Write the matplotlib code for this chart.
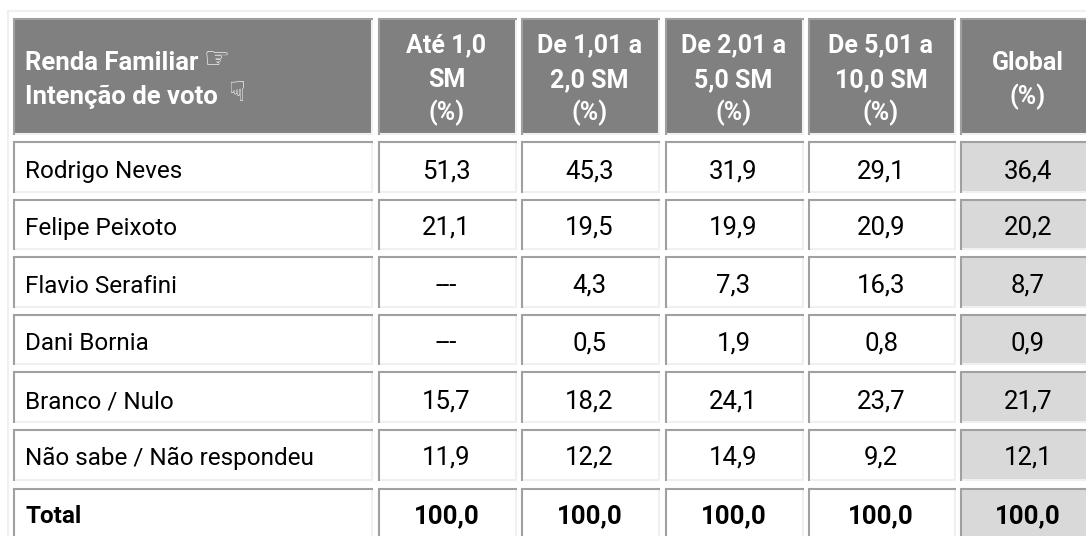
import matplotlib
matplotlib.use('Agg')
import matplotlib.pyplot as plt
from matplotlib.patches import Rectangle

plt.rcParams['font.family'] = ['Roboto', 'DejaVu Sans']

header_cols = [['Até 1,0', 'SM', '(%)'], ['De 1,01 a', '2,0 SM', '(%)'], ['De 2,01 a', '5,0 SM', '(%)'],
               ['De 5,01 a', '10,0 SM', '(%)'], ['Global', '(%)']]
header_first = ['Renda Familiar', 'Intenção de voto']
candidates = ['Rodrigo Neves', 'Felipe Peixoto', 'Flavio Serafini', 'Dani Bornia',
              'Branco / Nulo', 'Não sabe / Não respondeu', 'Total']
ate_1 = ['51,3', '21,1', '---', '---', '15,7', '11,9', '100,0']
de_1_2 = ['45,3', '19,5', '4,3', '0,5', '18,2', '12,2', '100,0']
de_2_5 = ['31,9', '19,9', '7,3', '1,9', '24,1', '14,9', '100,0']
de_5_10 = ['29,1', '20,9', '16,3', '0,8', '23,7', '9,2', '100,0']
global_ = ['36,4', '20,2', '8,7', '0,9', '21,7', '12,1', '100,0']
columns = [ate_1, de_1_2, de_2_5, de_5_10, global_]

col_left = [13, 378, 521, 665, 808, 960]
col_right = [371, 515, 658, 802, 954, 1092]
row_top = [18, 141, 199, 256, 314, 371, 429, 488]
row_bot = [133, 191, 248, 306, 363, 421, 479, 545]
baselines = [178, 235, 293, 350, 408, 465, 523]

fig = plt.figure(figsize=(10.86, 5.36), dpi=100)
ax = fig.add_axes([0, 0, 1, 1])
ax.set_xlim(0, 1086)
ax.set_ylim(536, 0)
ax.axis('off')


def cell(x0, x1, y0, y1, face):
    # html table look: dark top/left edge, light bottom/right edge
    ax.add_patch(Rectangle((x0, y0), x1 - x0, y1 - y0, fc=face, ec='none'))
    ax.plot([x1 + 1, x1 + 1], [y0, y1 + 2], color='#f0f0f0', lw=1.5, solid_capstyle='butt')
    ax.plot([x0, x1 + 2], [y1 + 1, y1 + 1], color='#f0f0f0', lw=1.5, solid_capstyle='butt')
    ax.plot([x0 + 0.5, x0 + 0.5, x1 + 2], [y1 + 2, y0 + 0.5, y0 + 0.5], color='#a0a0a0', lw=1.5,
            solid_capstyle='butt', solid_joinstyle='miter')


# outer frame
ax.plot([8, 8], [11, 536], color='#f0f0f0', lw=1.5)
ax.plot([8, 1086], [11, 11], color='#f0f0f0', lw=1.5)

for c in range(6):
    cell(col_left[c], col_right[c], row_top[0], row_bot[0], '#808080')
    xc = (col_left[c] + col_right[c]) / 2
    if c == 0:
        ax.text(25, 70, header_first[0], color='white', fontsize=18.5, fontweight='bold', va='baseline')
        ax.text(25, 104, header_first[1], color='white', fontsize=18.5, fontweight='bold', va='baseline')
        ax.text(217, 60, '\u261e', color='white', fontsize=21, ha='center', va='center', family='DejaVu Sans')
        ax.text(236, 93, '\u261f', color='white', fontsize=20, ha='center', va='center', family='DejaVu Sans')
    else:
        lines = header_cols[c - 1]
        ys = [52, 87, 120] if len(lines) == 3 else [70, 104]
        if c == 5:
            xc = 1028
        for line, y in zip(lines, ys):
            ax.text(xc, y, line, color='white', fontsize=18, fontweight='bold', ha='center', va='baseline')

for r, name in enumerate(candidates):
    y0, y1 = row_top[r + 1], row_bot[r + 1]
    weight = 'bold' if name == 'Total' else 'normal'
    cell(col_left[0], col_right[0], y0, y1, 'white')
    ax.text(25, baselines[r], name, fontsize=17.5, fontweight=weight, va='baseline', color='black')
    for c in range(5):
        face = '#d9d9d9' if c == 4 else 'white'
        cell(col_left[c + 1], col_right[c + 1], y0, y1, face)
        xc = (col_left[c + 1] + col_right[c + 1]) / 2
        if c == 4:
            xc = 1028
        ax.text(xc, baselines[r], columns[c][r], fontsize=18.5, fontweight=weight, ha='center', va='baseline',
                color='black')

fig.savefig('out.png', dpi=100)
